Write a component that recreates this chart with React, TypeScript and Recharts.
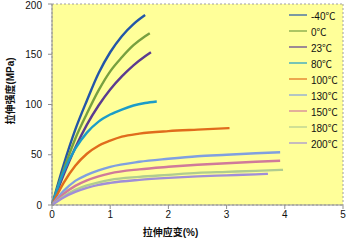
import React from 'react';
import { LineChart, Line, XAxis, YAxis, CartesianGrid, Label } from 'recharts';

type Pt = [number, number];

// strain (%) / stress (MPa) pairs
const CURVE_M40: Pt[] = [[0, 0], [0.2, 40], [0.4, 75], [0.6, 104], [0.8, 131], [1.0, 152], [1.2, 168], [1.4, 180], [1.6, 189]];
const CURVE_0: Pt[] = [[0, 0], [0.2, 35], [0.4, 66], [0.6, 91], [0.8, 114], [1.0, 133], [1.2, 147], [1.4, 159], [1.6, 168], [1.68, 171]];
const CURVE_23: Pt[] = [[0, 0], [0.2, 30], [0.4, 57], [0.6, 80], [0.8, 99], [1.0, 115], [1.2, 128], [1.4, 139], [1.6, 148], [1.7, 152]];
const CURVE_80: Pt[] = [[0, 0], [0.2, 33], [0.4, 56], [0.6, 72], [0.8, 83], [1.0, 90], [1.2, 95], [1.4, 99], [1.6, 101.5], [1.8, 103]];
const CURVE_100: Pt[] = [[0, 0], [0.2, 22], [0.4, 39], [0.6, 51], [0.8, 59], [1.0, 64], [1.2, 68], [1.5, 71], [2.0, 73.5], [2.5, 75], [3.05, 76.5]];
const CURVE_130: Pt[] = [[0, 0], [0.2, 14], [0.4, 24], [0.6, 30], [0.8, 34.5], [1.0, 38], [1.5, 43], [2.0, 46], [2.5, 48.5], [3.0, 50], [3.5, 51.5], [3.92, 52.5]];
const CURVE_150: Pt[] = [[0, 0], [0.2, 11], [0.4, 19], [0.6, 24.5], [0.8, 28.5], [1.0, 31.5], [1.5, 35.5], [2.0, 38], [2.5, 40], [3.0, 41.5], [3.5, 43], [3.92, 44]];
const CURVE_180: Pt[] = [[0, 0], [0.2, 8.5], [0.4, 15], [0.6, 19.5], [0.8, 22.5], [1.0, 25], [1.5, 28], [2.0, 30], [2.5, 32], [3.0, 33], [3.5, 34], [3.97, 35]];
const CURVE_200: Pt[] = [[0, 0], [0.2, 7.5], [0.4, 13], [0.6, 17], [0.8, 20], [1.0, 22], [1.5, 25], [2.0, 27], [2.5, 28.5], [3.0, 29.5], [3.5, 30.5], [3.71, 31]];

const SERIES_NAMES = ['-40℃', '0℃', '23℃', '80℃', '100℃', '130℃', '150℃', '180℃', '200℃'];
const SERIES_CURVES = [CURVE_M40, CURVE_0, CURVE_23, CURVE_80, CURVE_100, CURVE_130, CURVE_150, CURVE_180, CURVE_200];
const COLORS = ['#2356a8', '#77a040', '#5b3b90', '#1b9cc8', '#e06c1c', '#80a0e0', '#d07a9a', '#b0cc90', '#a08ed8'];

const X_TICKS = [0, 1, 2, 3, 4, 5];
const Y_TICKS = [0, 50, 100, 150, 200];

const FONT = "Arial, 'Liberation Sans', 'Noto Sans CJK SC', sans-serif";

const series = SERIES_CURVES.map((c, i) => ({
  name: SERIES_NAMES[i],
  color: COLORS[i],
  data: c.map(([x, y]) => ({ x, y })),
}));

// legend sits inside the plot, so keep it out of recharts' layout
const LegendBox = () => (
  <div style={{ position: 'absolute', left: 289, top: 7, fontFamily: FONT, fontSize: 10, color: '#111' }}>
    {series.map((s) => (
      <div key={s.name} style={{ height: 16, display: 'flex', alignItems: 'center' }}>
        <svg width={20} height={4} style={{ marginRight: 2 }}>
          <line x1={0} y1={2} x2={18} y2={2} stroke={s.color} strokeWidth={1.2} />
        </svg>
        <span>{s.name}</span>
      </div>
    ))}
  </div>
);

const YTitle = () => {
  const cx = 10;
  const cy = 91;
  return (
    <text x={cx} y={cy} transform={`rotate(-90, ${cx}, ${cy})`} textAnchor="middle" dominantBaseline="central"
      fontFamily={FONT} fontSize={10} fontWeight="bold" fill="#111">
      拉伸强度(MPa)
    </text>
  );
};

export default function App() {
  return (
    <div style={{ position: 'absolute', left: 0, top: 0, width: 350, height: 242, background: '#fff' }}>
      <LineChart width={350} height={242} margin={{ top: 4, right: 7, left: 0, bottom: 0 }}>
        <CartesianGrid stroke="#a0a0a0" strokeDasharray="2 2" fill="#ffff99" />
        <XAxis
          xAxisId="b"
          type="number"
          dataKey="x"
          domain={[0, 5]}
          ticks={X_TICKS}
          height={37}
          tickSize={4}
          stroke="#909090"
          tick={{ fontSize: 10, fill: '#111', fontFamily: FONT }}
          allowDuplicatedCategory={false}
        >
          <Label value="拉伸应变(%)" position="insideBottom" offset={6} dx={-27}
            style={{ fontSize: 10, fontWeight: 'bold', fill: '#111', fontFamily: FONT }} />
        </XAxis>
        <XAxis xAxisId="t" orientation="top" type="number" domain={[0, 5]} height={0} tick={false} tickLine={false} stroke="#909090" />
        <YAxis
          yAxisId="l"
          type="number"
          domain={[0, 200]}
          ticks={Y_TICKS}
          width={52}
          tickSize={4}
          tickMargin={6}
          stroke="#909090"
          tick={{ fontSize: 10, fill: '#111', fontFamily: FONT }}
        >
          <Label content={<YTitle />} />
        </YAxis>
        <YAxis yAxisId="r" orientation="right" type="number" domain={[0, 200]} width={0} tick={false} tickLine={false} stroke="#909090" />
        {series.map((s) => (
          <Line
            key={s.name}
            xAxisId="b"
            yAxisId="l"
            data={s.data}
            dataKey="y"
            name={s.name}
            type="monotone"
            stroke={s.color}
            strokeWidth={2.4}
            dot={false}
            isAnimationActive={false}
          />
        ))}
      </LineChart>
      <LegendBox />
    </div>
  );
}
